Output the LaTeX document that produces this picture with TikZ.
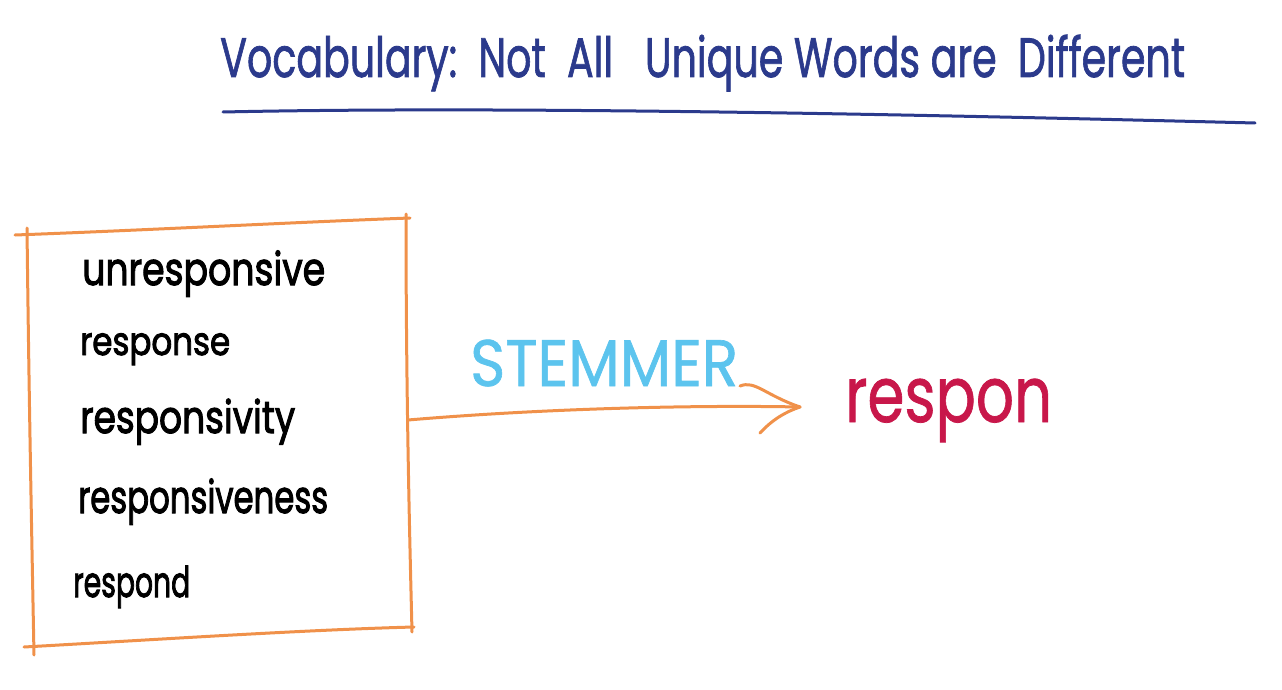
\documentclass[tikz,border=0pt]{standalone}
\usepackage{fontspec}
\setmainfont{Poppins}
\usetikzlibrary{arrows.meta}
\definecolor{titleblue}{HTML}{2B3A8C}
\definecolor{boxorange}{HTML}{F0914A}
\definecolor{stemblue}{HTML}{5CC4EE}
\definecolor{resred}{HTML}{C8174A}
\tikzset{
  ink/.style={line width=3pt, line cap=round, line join=round},
  word/.style={anchor=base west, inner sep=0pt, font=\fontsize{40}{40}\selectfont\addfontfeature{FakeBold=2.5}, text=black},
}
\newcommand{\fitw}[3]{\scalebox{1}[#3]{\resizebox{#1pt}{!}{#2}}}
\begin{document}
\begin{tikzpicture}[x=1pt,y=-1pt]
\useasboundingbox[fill=white] (0,0) rectangle (1282,690);
% title
\node[anchor=base west, inner sep=0pt, text=titleblue, font=\fontsize{50}{50}\selectfont\addfontfeature{FakeBold=1.5}] (title) at (220,77) {\fitw{965}{Vocabulary:\ \ Not\ \ All\ \ \ Unique\ Words are\ \ Different}{1.4}};
\draw[ink, titleblue] (223,112) .. controls (500,106) and (900,114) .. (1255,123);
% box
\draw[ink, boxorange] (15,235) .. controls (150,230) and (300,222) .. (410,218);
\draw[ink, boxorange] (27,228) .. controls (29,400) and (32,550) .. (34,655);
\draw[ink, boxorange] (24,647) .. controls (150,640) and (300,630) .. (414,627);
\draw[ink, boxorange] (406,214) .. controls (406,400) and (410,550) .. (412,632);
\coordinate (boxR) at (408,420);
% words
\node[word] (w1) at (82,285) {\fitw{243}{unresponsive}{1.25}};
\node[word] (w2) at (80,355) {\fitw{150}{response}{1.2}};
\node[word] (w3) at (80,433) {\fitw{215}{responsivity}{1.25}};
\node[word] (w4) at (78,513) {\fitw{250}{responsiveness}{1.4}};
\node[word] (w5) at (73,597) {\fitw{117}{respond}{1.5}};
% arrow
\node[anchor=base west, inner sep=0pt, text=stemblue, font=\fontsize{52}{52}\selectfont\addfontfeature{FakeBold=1}] (stem) at (470,386) {\fitw{268}{STEMMER}{1.1}};
\node[anchor=base west, inner sep=0pt, text=resred, font=\fontsize{72}{72}\selectfont\addfontfeature{FakeBold=1}] (res) at (845,422) {\fitw{207}{respon}{1.3}};
\coordinate (tip) at (800,407);
\draw[ink, boxorange] (boxR) .. controls (550,408) and (700,405) .. (tip);
\draw[ink, boxorange] (740,386) .. controls (755,380) and (765,395) .. (tip);
\draw[ink, boxorange] (760,433) .. controls (772,420) and (785,412) .. (tip);
\end{tikzpicture}
\end{document}
